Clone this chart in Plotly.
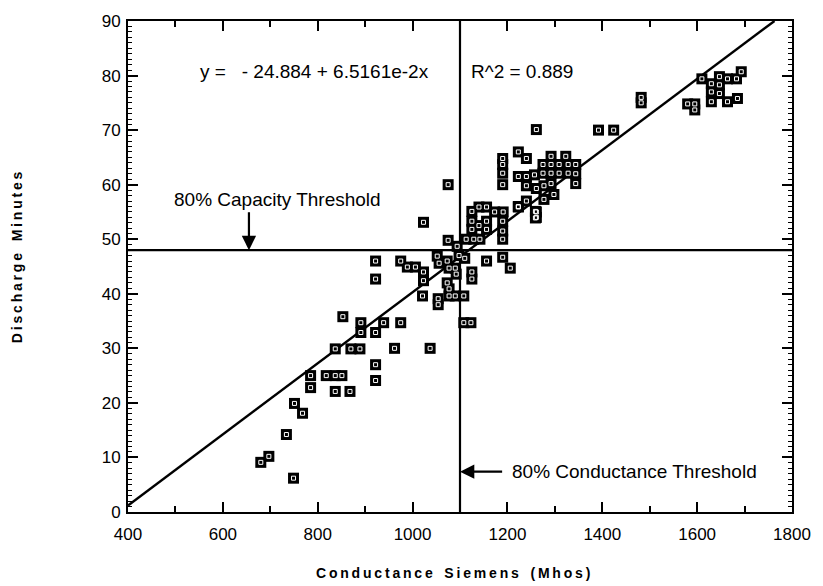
import plotly.graph_objects as go

# Data (conductance, discharge minutes)
cond = [680, 697, 749, 734, 751, 768, 785, 785, 818, 837, 851, 837, 868, 837, 870, 889,
        853, 891, 891, 922, 922, 922, 939, 922, 922, 962, 975, 1037,
        975, 989, 1006, 1023, 1023, 1021, 1023, 1075,
        1054, 1054, 1073, 1077, 1077, 1090, 1108,
        1052, 1056, 1073, 1077, 1090, 1092, 1110, 1125, 1125, 1156, 1190, 1206, 1098,
        1108, 1123,
        1075, 1094, 1113, 1129, 1142,
        1125, 1125, 1125, 1140, 1156, 1156, 1156, 1173, 1191, 1190, 1190, 1190, 1223, 1259, 1259, 1140,
        1190, 1190, 1190, 1190, 1223, 1240, 1292, 1323, 1275, 1292, 1309, 1328, 1344,
        1223, 1240, 1257, 1275, 1292, 1309, 1328, 1344,
        1240, 1261, 1277, 1292, 1344,
        1277, 1298, 1223, 1240, 1261, 1261,
        1261, 1392, 1424,
        1482, 1482,
        1580, 1595, 1595, 1610, 1630, 1630, 1630, 1647, 1647, 1647, 1664, 1683, 1693, 1664, 1685]
minutes = [9.1, 10.2, 6.2, 14.2, 19.9, 18.1, 25, 22.8, 25, 25, 25, 22.1, 22.1, 29.9, 29.9, 29.9,
           35.8, 34.7, 32.9, 32.9, 27, 24.1, 34.7, 42.7, 46, 30, 34.7, 30,
           46, 44.9, 44.9, 44, 42.4, 39.6, 53.1, 60,
           39.1, 38, 42, 40.9, 39.6, 39.6, 39.6,
           46.9, 45.6, 46, 44.7, 44.7, 43.6, 46.5, 44, 42.7, 46, 46.7, 44.7, 47,
           34.7, 34.7,
           49.8, 48.7, 50, 50, 50,
           55.1, 53.3, 51.8, 55.9, 55.9, 53.3, 51.8, 55, 55, 53.3, 51.5, 50, 55.9, 55.1, 53.9, 52.5,
           64.8, 63.7, 62.1, 60, 66, 64.8, 65.2, 65.2, 63.7, 63.7, 63.7, 63.7, 63.7,
           61.5, 61.5, 61.8, 62.1, 62.1, 62.1, 62.1, 62,
           59.8, 59.3, 59.8, 60.2, 60.2,
           57.3, 58.2, 56, 57, 55, 54,
           70.1, 70, 70,
           75, 76,
           74.8, 74.8, 73.7, 79.4, 78.5, 77, 75.2, 79.8, 78.3, 76.7, 79.4, 79.4, 80.7, 75.2, 75.8]

intercept = -24.884
slope = 6.5161e-2
fit_x = [400, (90 - intercept) / slope]
fit_y = [intercept + slope * v for v in fit_x]

cap_threshold = 48
cond_threshold = 1100

x_ticks = [400, 600, 800, 1000, 1200, 1400, 1600, 1800]
y_ticks = [0, 10, 20, 30, 40, 50, 60, 70, 80, 90]

FONT = "Liberation Sans, Arial, sans-serif"


def spaced(s):
    """Emulate the letter spacing of the original axis titles."""
    out = []
    for word in s.split(" "):
        out.append("\u2009".join(word))
    return "\u00a0\u00a0\u00a0".join(out)


fig = go.Figure()

# threshold lines
fig.add_trace(go.Scatter(x=[400, 1800], y=[cap_threshold, cap_threshold], mode="lines",
                         line=dict(color="black", width=2.2), hoverinfo="skip", showlegend=False))
fig.add_trace(go.Scatter(x=[cond_threshold, cond_threshold], y=[0, 90], mode="lines",
                         line=dict(color="black", width=2.2), hoverinfo="skip", showlegend=False))
# regression line
fig.add_trace(go.Scatter(x=fit_x, y=fit_y, mode="lines",
                         line=dict(color="black", width=2.4), hoverinfo="skip", showlegend=False))
# markers: filled black square with small white square inside
fig.add_trace(go.Scatter(x=cond, y=minutes, mode="markers",
                         marker=dict(symbol="square", size=11, color="black",
                                     line=dict(color="black", width=0)),
                         showlegend=False))
fig.add_trace(go.Scatter(x=cond, y=minutes, mode="markers",
                         marker=dict(symbol="square-open", size=4, color="white",
                                     line=dict(color="white", width=1)),
                         hoverinfo="skip", showlegend=False))

axis_common = dict(showgrid=False, zeroline=False, showline=True, linecolor="black",
                   linewidth=2, mirror="ticks", ticks="inside", tickcolor="black",
                   tickwidth=1.5, tickfont=dict(family=FONT, size=17, color="black"))

fig.update_xaxes(range=[400, 1800], tickvals=x_ticks, ticklen=10, ticklabelstandoff=6,
                 minor=dict(dtick=100, ticks="inside", ticklen=6, tickcolor="black", tickwidth=1.5),
                 **axis_common)
fig.update_yaxes(range=[0, 90], tickvals=y_ticks, ticklen=10, ticklabelstandoff=2,
                 minor=dict(dtick=1, ticks="inside", ticklen=4, tickcolor="black", tickwidth=1),
                 **axis_common)

annotations = [
    dict(x=548, y=80.7, xref="x", yref="y", text="y =\u00a0\u00a0 - 24.884 + 6.5161e-2x",
         showarrow=False, xanchor="left", yanchor="middle",
         font=dict(family=FONT, size=19, color="black")),
    dict(x=1120, y=80.7, xref="x", yref="y", text="R^2 = 0.889",
         showarrow=False, xanchor="left", yanchor="middle",
         font=dict(family=FONT, size=19, color="black")),
    # capacity threshold arrow + label
    dict(x=655, y=cap_threshold, xref="x", yref="y", ax=655, ay=55.2, axref="x", ayref="y",
         text="", showarrow=True, arrowhead=2, arrowsize=1.3, arrowwidth=2.2, arrowcolor="black"),
    dict(x=492, y=57.3, xref="x", yref="y", text="80% Capacity Threshold",
         showarrow=False, xanchor="left", yanchor="middle",
         font=dict(family=FONT, size=19, color="black")),
    # conductance threshold arrow + label
    dict(x=cond_threshold, y=7.4, xref="x", yref="y", ax=1192, ay=7.4, axref="x", ayref="y",
         text="", showarrow=True, arrowhead=2, arrowsize=1.3, arrowwidth=2.2, arrowcolor="black"),
    dict(x=1205, y=7.4, xref="x", yref="y", text="80% Conductance Threshold",
         showarrow=False, xanchor="left", yanchor="middle",
         font=dict(family=FONT, size=19, color="black")),
    # axis titles
    dict(x=-0.168, y=0.52, xref="paper", yref="paper", xanchor="center", yanchor="middle",
         text="<b>" + spaced("Discharge Minutes") + "</b>", textangle=-90, showarrow=False,
         font=dict(family=FONT, size=14, color="black")),
    dict(x=0.49, y=-0.125, xref="paper", yref="paper", xanchor="center", yanchor="middle",
         text="<b>" + spaced("Conductance Siemens (Mhos)") + "</b>", showarrow=False,
         font=dict(family=FONT, size=14, color="black")),
]

fig.update_layout(width=823, height=586, margin=dict(l=128, r=25, t=19, b=74),
                  paper_bgcolor="white", plot_bgcolor="white",
                  annotations=annotations, showlegend=False)

fig.write_html("out.html")
